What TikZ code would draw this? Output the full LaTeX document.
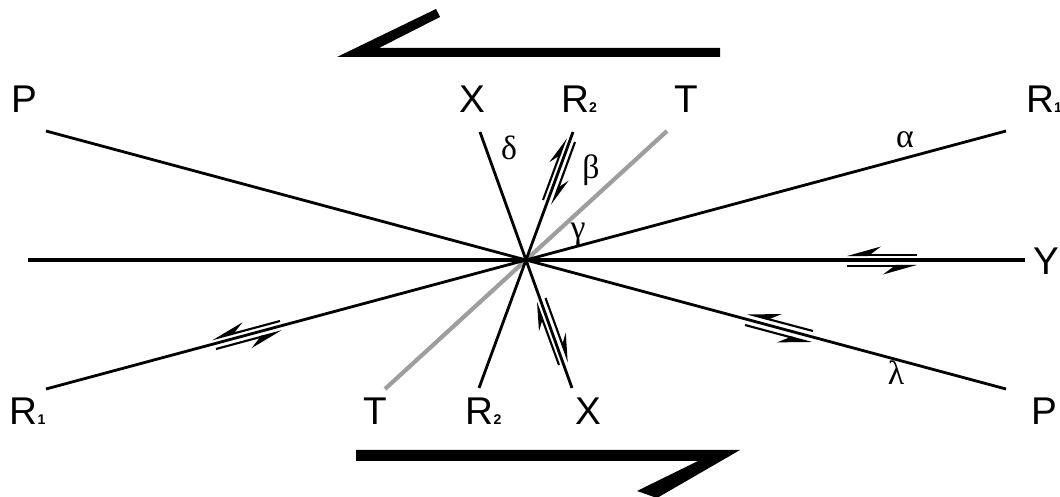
\documentclass[tikz,border=0pt]{standalone}
\usepackage{fontspec}
\setmainfont{Liberation Sans}
\newfontfamily\greekfont{Liberation Serif}
\usetikzlibrary{arrows.meta}
\newcommand\rsub[1]{{\fontsize{10}{10}\selectfont\bfseries #1}}

\begin{document}
\begin{tikzpicture}[
  x=0.025cm, y=-0.025cm,
  every node/.style={inner sep=0pt},
  endlabel/.style={font=\fontsize{27.5}{30}\selectfont},
  greek/.style={font=\greekfont\fontsize{24}{26}\selectfont},
  fault/.style={line width=2pt, black},
  trace/.style={line width=3pt, black!38},
  sense/.style={line width=1.5pt, -{Stealth[harpoon, swap, length=0.75cm, width=0.42cm, inset=0.28cm]}},
  sensel/.style={line width=1.5pt, -{Stealth[harpoon, length=0.62cm, width=0.36cm, inset=0.24cm]}},
  shear/.style={fill=black, draw=none},
]
\useasboundingbox (0,0) rectangle (1060,497);

% line ends
\coordinate (y1) at (28,260);   \coordinate (y2) at (1025,260);
\coordinate (p1) at (46,131);   \coordinate (p2) at (1006,389);
\coordinate (r1a) at (46,389);  \coordinate (r1b) at (1006,131);
\coordinate (x1) at (480,132);  \coordinate (x2) at (572,388);
\coordinate (r2a) at (573,132); \coordinate (r2b) at (479,388);
\coordinate (t1) at (667,131);  \coordinate (t2) at (385,389);

% faults
\draw[trace] (t1) -- (t2);
\draw[fault, line width=2.4pt] (y1) -- (y2);
\draw[fault] (p1) -- (p2);
\draw[fault] (r1a) -- (r1b);
\draw[fault] (x1) -- (x2);
\draw[fault] (r2a) -- (r2b);

% end labels
\node[endlabel] (pl) at (24.5,99) {P};
\node[endlabel] (xt) at (472.5,99.5) {X};
\node[endlabel] (r2t) at (579,99.5) {R\rsub{2}};
\node[endlabel] (tt) at (686.7,99) {T};
\node[endlabel] (r1t) at (1044,99) {R\rsub{1}};
\node[endlabel] (yr) at (1046,261) {Y};
\node[endlabel] (r1l) at (27.5,411) {R\rsub{1}};
\node[endlabel] (tb) at (375,411) {T};
\node[endlabel] (r2l) at (483.5,411) {R\rsub{2}};
\node[endlabel] (xb) at (588,411) {X};
\node[endlabel] (pr) at (1044,411) {P};

% angles
\node[greek] (dlt) at (509,148) {δ};
\node[greek] (bet) at (591,170) {β};
\node[greek] (gam) at (578,234) {γ};
\node[greek] (alp) at (905,140) {α};
\node[greek] (lam) at (896,373) {λ};

% shear sense
\draw[sense] (917,255) -- (847,255);
\draw[sense] (847,266) -- (917,266);
\draw[sense] (813,331) -- (747,313.5);
\draw[sense] (745,325) -- (812,343);
\draw[sense] (280,321) -- (212,339.3);
\draw[sense] (216,349) -- (282,331.2);
\draw[sensel] (543,200) -- (566,138);
\draw[sensel] (575,142) -- (552,205);
\draw[sensel] (559,365) -- (536,302);
\draw[sensel] (545.5,298) -- (568.7,362);

% regional shear
\fill[shear] (337,57) -- (720,57) -- (720,48) -- (379,48) -- (440,17) -- (436,9) -- cycle;
\fill[shear] (356,450) -- (740,450) -- (657,498) -- (637,491) -- (698,461) -- (356,461) -- cycle;
\end{tikzpicture}
\end{document}
